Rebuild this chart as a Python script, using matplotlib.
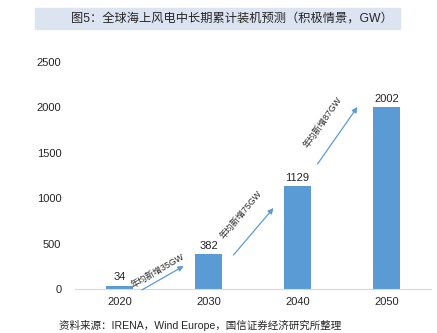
import matplotlib
matplotlib.use("Agg")
import matplotlib.pyplot as plt
from matplotlib.patches import Rectangle

plt.rcParams['font.family'] = ['Liberation Sans', 'Noto Sans CJK SC', 'DejaVu Sans']

# ========== Data ==========
years = ["2020", "2030", "2040", "2050"]
capacity = [34, 382, 1129, 2002]
growth_labels = ["年均新增35GW", "年均新增75GW", "年均新增87GW"]
yticks = [0, 500, 1000, 1500, 2000, 2500]

TITLE = "图5：全球海上风电中长期累计装机预测（积极情景，GW）"
SOURCE = "资料来源：IRENA，Wind Europe，国信证券经济研究所整理"

BAR_COLOR = "#5b9bd5"
TEXT_COLOR = "#262626"

fig = plt.figure(figsize=(4.37, 3.33), dpi=100)
ax = fig.add_axes([0.172, 0.132, 0.814, 0.682])

x = range(len(years))
ax.bar(x, capacity, width=0.31, color=BAR_COLOR)
for i, v in enumerate(capacity):
    ax.text(i, v + 40, str(v), ha="center", va="bottom", fontsize=8, color=TEXT_COLOR)

# growth arrows between bars: (start, end) in data coords
arrows = [((0.25, -10), (0.72, 253)),
          ((1.28, 374), (1.73, 892)),
          ((2.225, 1376), (2.674, 2004))]
label_pos = [(0.43, 200, 30), (1.37, 820, 50), (2.28, 1830, 55)]
for (s, e), lab, (tx, ty, rot) in zip(arrows, growth_labels, label_pos):
    ax.annotate("", xy=e, xytext=s,
                arrowprops=dict(arrowstyle="-|>", color=BAR_COLOR, lw=0.9,
                                mutation_scale=8, shrinkA=0, shrinkB=0))
    ax.text(tx, ty, lab, rotation=rot, ha="center", va="center",
            fontsize=6.3, color=TEXT_COLOR, rotation_mode="anchor")

ax.set_xlim(-0.5, 3.5)
ax.set_ylim(0, 2500)
ax.set_xticks(list(x))
ax.set_xticklabels(years)
ax.set_yticks(yticks)
ax.tick_params(axis="both", length=0, labelsize=8, colors=TEXT_COLOR)
ax.tick_params(axis="y", pad=10)
ax.tick_params(axis="x", pad=6)
for side in ["top", "right", "left"]:
    ax.spines[side].set_visible(False)
ax.spines["bottom"].set_color("#d9d9d9")
ax.spines["bottom"].set_linewidth(0.8)

# title band
fig.patches.append(Rectangle((35 / 437, 1 - 29 / 333), 365 / 437, 21 / 333,
                             transform=fig.transFigure, color="#dce3f1", zorder=0))
fig.text(232 / 437, 1 - 18.5 / 333, TITLE, ha="center", va="center", fontsize=8.8, color=TEXT_COLOR)
fig.text(59 / 437, 1 - 325 / 333, SOURCE, ha="left", va="center", fontsize=7.6, color=TEXT_COLOR)

fig.savefig("out.png", dpi=100)
